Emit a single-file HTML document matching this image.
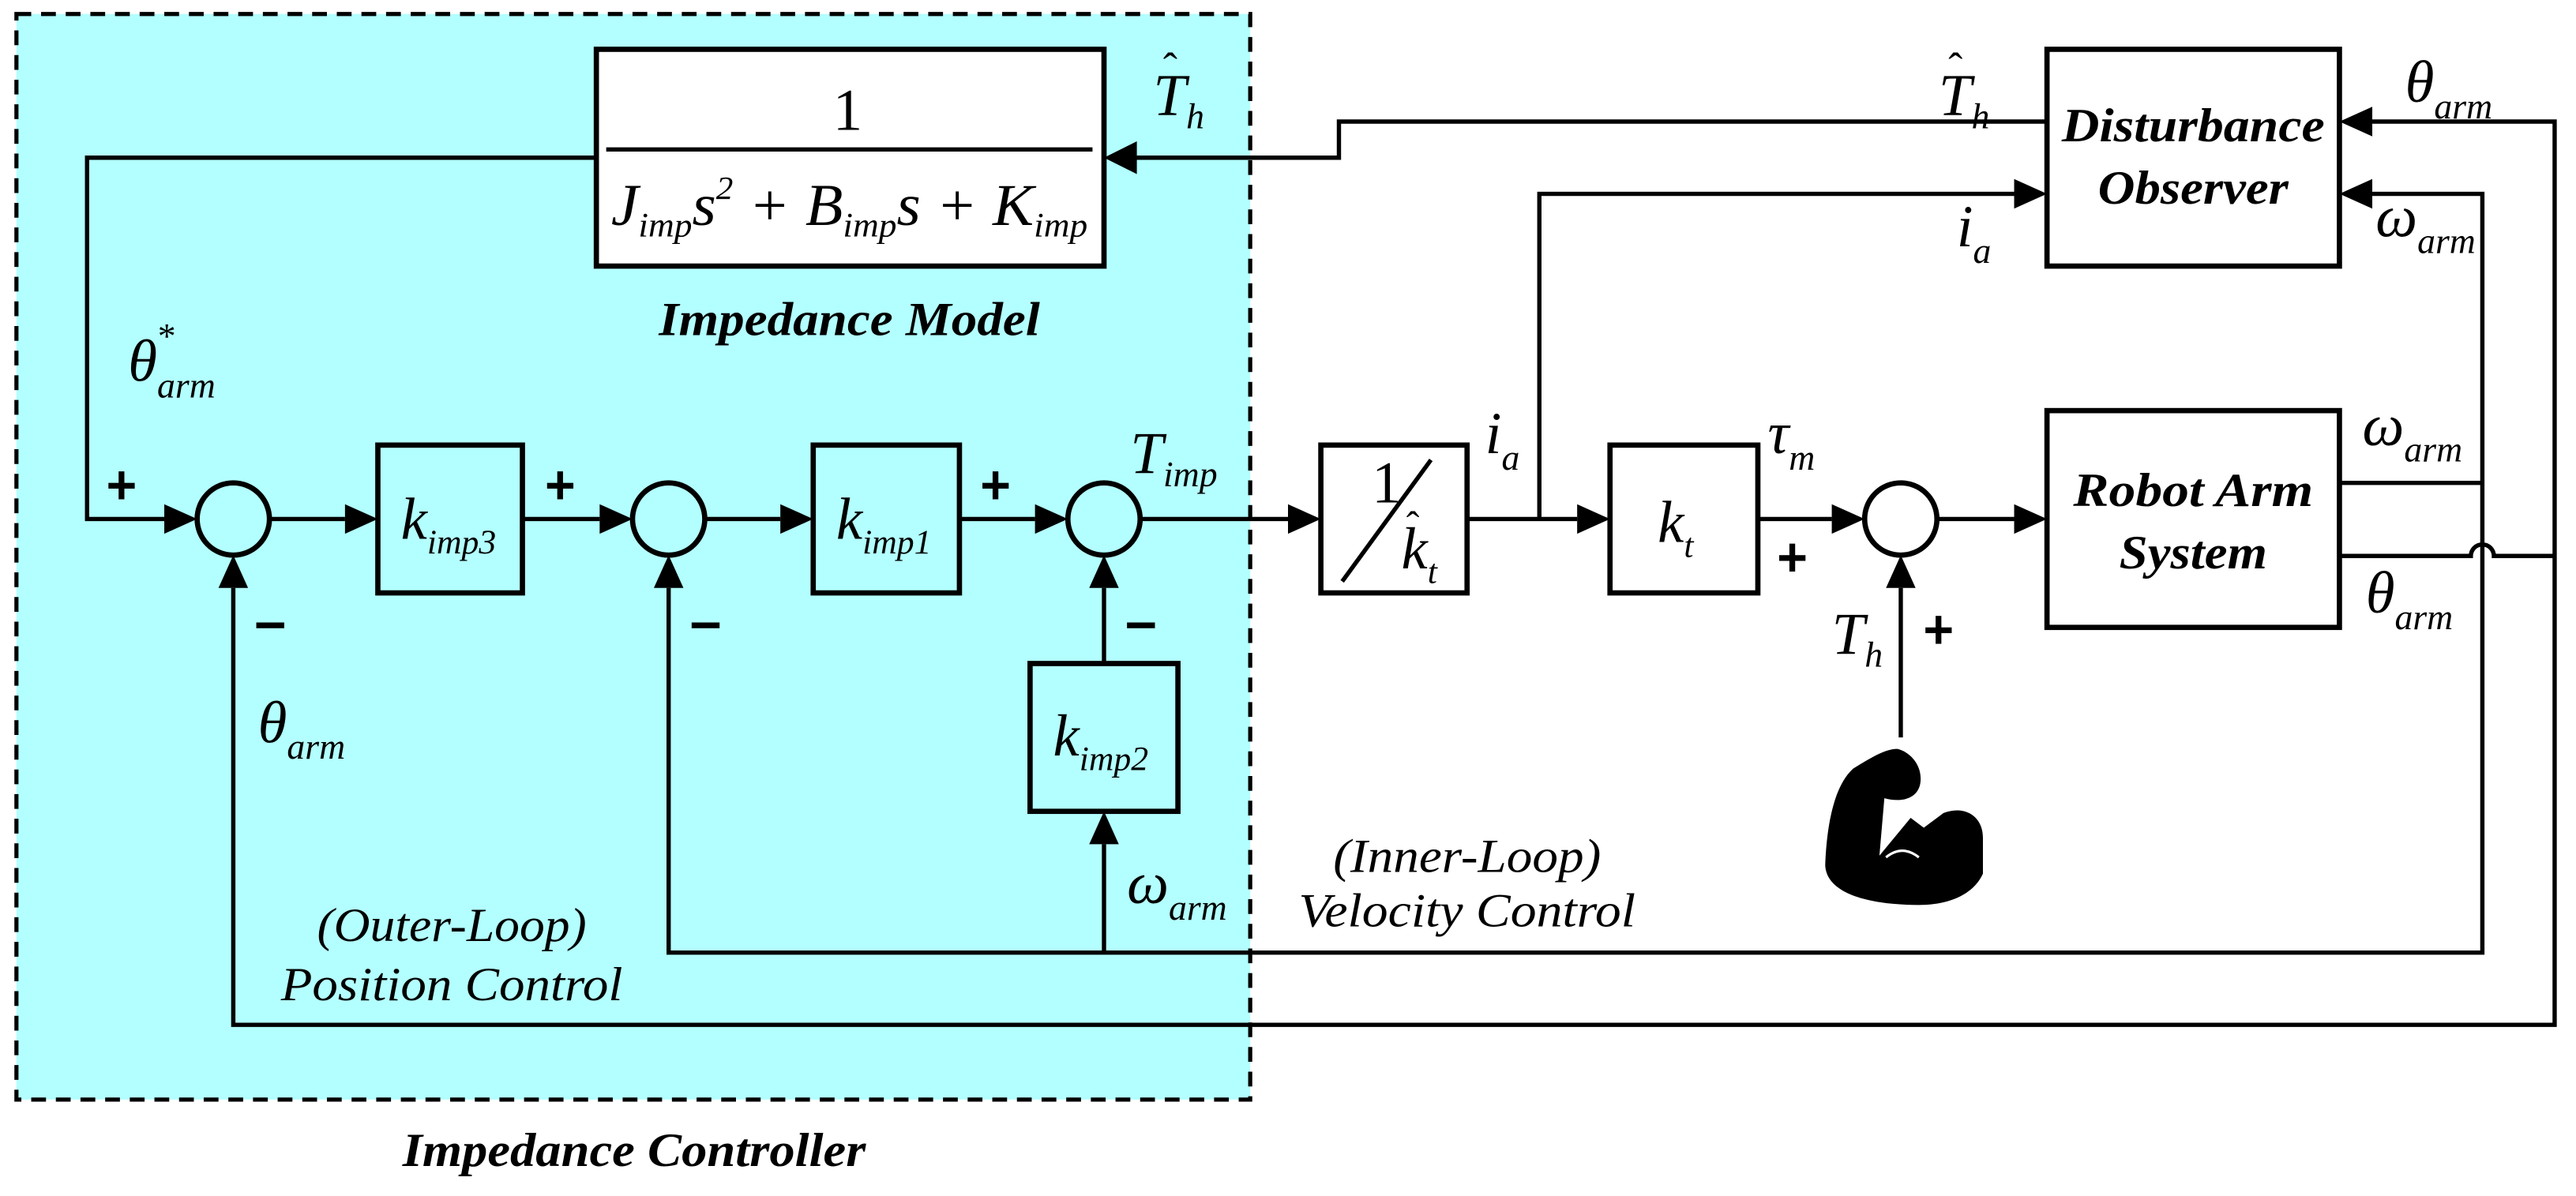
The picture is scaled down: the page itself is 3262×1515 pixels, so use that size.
<!DOCTYPE html>
<html><head><meta charset="utf-8"><style>
html,body{margin:0;padding:0;background:#fff;}
svg{display:block;}
svg text{font-family:"Liberation Serif","DejaVu Serif",serif !important;font-style:italic;fill:#000;}
svg text.n{font-style:normal;}
svg text.s{font-family:"Liberation Sans","DejaVu Sans",sans-serif !important;font-style:normal;font-weight:bold;}
.b{font-weight:bold;}
</style></head><body>
<svg width="3262" height="1515" viewBox="0 0 1568 728.2" xmlns="http://www.w3.org/2000/svg" font-family="Liberation Serif, serif">
<rect x="0" y="0" width="1568" height="728.2" fill="#fff"/>
<rect x="10" y="8.5" width="751" height="661" fill="#b3ffff" stroke="#000" stroke-width="2.5" stroke-dasharray="9,6"/>

<g stroke="#000" fill="none" stroke-width="3.2">
<rect x="363" y="30" width="309" height="132" fill="#fff"/>
<rect x="1246" y="30" width="178" height="132" fill="#fff"/>
<rect x="1246" y="250" width="178" height="132" fill="#fff"/>
<rect x="230" y="271" width="88" height="90"/>
<rect x="495" y="271" width="89" height="90"/>
<rect x="627" y="404" width="90" height="90"/>
<rect x="804" y="271" width="89" height="90" fill="#fff"/>
<rect x="980" y="271" width="90" height="90" fill="#fff"/>
<circle cx="142" cy="316" r="22"/>
<circle cx="407" cy="316" r="22"/>
<circle cx="672" cy="316" r="22"/>
<circle cx="1157" cy="316" r="22"/>
</g>

<g stroke="#000" fill="none" stroke-width="2.6">
<polyline points="1246,74 815,74 815,96 690,96"/>
<polyline points="363,96 53,96 53,316 100,316"/>
<line x1="164" y1="316" x2="210" y2="316"/>
<line x1="318" y1="316" x2="365" y2="316"/>
<line x1="429" y1="316" x2="475" y2="316"/>
<line x1="584" y1="316" x2="630" y2="316"/>
<line x1="694" y1="316" x2="784" y2="316"/>
<line x1="893" y1="316" x2="960" y2="316"/>
<line x1="1070" y1="316" x2="1115" y2="316"/>
<line x1="1179" y1="316" x2="1226" y2="316"/>
<polyline points="937,316 937,118 1226,118"/>
<polyline points="142,358 142,624 1555,624 1555,74 1444,74"/>
<polyline points="407,358 407,580 1511,580 1511,118 1444,118"/>
<line x1="672" y1="580" x2="672" y2="514"/>
<line x1="672" y1="404" x2="672" y2="358"/>
<line x1="1157" y1="449" x2="1157" y2="358"/>
<line x1="1424" y1="294" x2="1511" y2="294"/>
<path d="M1424,338.5 L1504,338.5 A7,7 0 0 1 1518,338.5 L1555,338.5"/>
<line x1="871" y1="280" x2="817" y2="354"/>
<line x1="369" y1="91" x2="665" y2="91"/>
</g>

<g fill="#000">
<polygon points="672,96 692,86 692,106"/>
<polygon points="120,316 100,307 100,325"/>
<polygon points="230,316 210,307 210,325"/>
<polygon points="385,316 365,307 365,325"/>
<polygon points="495,316 475,307 475,325"/>
<polygon points="650,316 630,307 630,325"/>
<polygon points="804,316 784,307 784,325"/>
<polygon points="980,316 960,307 960,325"/>
<polygon points="1135,316 1115,307 1115,325"/>
<polygon points="1246,316 1226,307 1226,325"/>
<polygon points="1246,118 1226,109 1226,127"/>
<polygon points="1424,74 1444,65 1444,83"/>
<polygon points="1424,118 1444,109 1444,127"/>
<polygon points="142,338 133,358 151,358"/>
<polygon points="407,338 398,358 416,358"/>
<polygon points="672,338 663,358 681,358"/>
<polygon points="1157,338 1148,358 1166,358"/>
<polygon points="672,494 663,514 681,514"/>
<path d="M1155,456 C1163,458 1170,466 1169,476 C1168,486 1158,489 1147,486 L1144,521 L1163,498 L1171,504 L1183,495 C1196,490 1207,497 1207,510 L1207,532 C1201,545 1186,551 1168,551 C1140,551 1112,545 1111,527 C1112,500 1117,478 1128,468 C1138,462 1147,456 1155,456 Z"/>
</g>
<path d="M1148,522 Q1158,514 1168,522" stroke="#fff" stroke-width="1.5" fill="none"/>

<!-- signs -->
<g fill="#000">
<rect x="66" y="294" width="16" height="3.5"/><rect x="72.2" y="287" width="3.5" height="17"/>
<rect x="333" y="294" width="16" height="3.5"/><rect x="339.2" y="287" width="3.5" height="17"/>
<rect x="598" y="294" width="16" height="3.5"/><rect x="604.2" y="287" width="3.5" height="17"/>
<rect x="1083" y="338" width="16" height="3.5"/><rect x="1089.2" y="331" width="3.5" height="17"/>
<rect x="1172" y="382" width="16" height="3.5"/><rect x="1178.2" y="375" width="3.5" height="17"/>
<rect x="156" y="379" width="17" height="3.5"/>
<rect x="421" y="379" width="17" height="3.5"/>
<rect x="686" y="379" width="17" height="3.5"/>
</g>

<g font-size="36">
<text class="n" x="507" y="79">1</text>
<text x="372" y="137" textLength="290" lengthAdjust="spacingAndGlyphs">J<tspan font-size="21" dy="7">imp</tspan><tspan dy="-7">s</tspan><tspan font-size="20" dy="-16" class="n">2</tspan><tspan dy="16"> + </tspan>B<tspan font-size="21" dy="7">imp</tspan><tspan dy="-7">s + </tspan>K<tspan font-size="21" dy="7">imp</tspan></text>

<text x="244" y="328">k<tspan font-size="21" dy="9">imp3</tspan></text>
<text x="509" y="328">k<tspan font-size="21" dy="9">imp1</tspan></text>
<text x="641" y="460">k<tspan font-size="21" dy="9">imp2</tspan></text>
<text x="1009" y="330">k<tspan font-size="21" dy="9">t</tspan></text>
<text class="n" x="835" y="306">1</text>
<text x="853" y="346">k<tspan font-size="21" dy="9">t</tspan></text>
<text class="n" x="856" y="328" font-size="24">ˆ</text>

<text x="702" y="70">T<tspan font-size="22" dy="8">h</tspan></text>
<text class="n" x="708" y="50" font-size="26">ˆ</text>
<text x="1180" y="70">T<tspan font-size="22" dy="8">h</tspan></text>
<text class="n" x="1186" y="50" font-size="26">ˆ</text>
<text x="1191" y="150">i<tspan font-size="22" dy="10">a</tspan></text>
<text x="904" y="276">i<tspan font-size="22" dy="10">a</tspan></text>
<text x="1076" y="276">τ<tspan font-size="22" dy="10">m</tspan></text>
<text x="688" y="288">T<tspan font-size="22" dy="8">imp</tspan></text>
<text x="1115" y="398">T<tspan font-size="22" dy="8">h</tspan></text>

<text x="78" y="232">θ<tspan font-size="22" dy="10">arm</tspan></text>
<text class="n" x="96" y="212" font-size="22">*</text>
<text x="157" y="452">θ<tspan font-size="22" dy="10">arm</tspan></text>
<text x="686" y="550">ω<tspan font-size="22" dy="10">arm</tspan></text>
<text x="1464" y="62">θ<tspan font-size="22" dy="10">arm</tspan></text>
<text x="1446" y="144">ω<tspan font-size="22" dy="10">arm</tspan></text>
<text x="1438" y="271">ω<tspan font-size="22" dy="10">arm</tspan></text>
<text x="1440" y="373">θ<tspan font-size="22" dy="10">arm</tspan></text>
</g>

<g font-size="29">
<text class="b" x="517" y="204" text-anchor="middle" textLength="232" lengthAdjust="spacingAndGlyphs">Impedance Model</text>
<text class="b" x="1335" y="86" text-anchor="middle" textLength="160" lengthAdjust="spacingAndGlyphs">Disturbance</text>
<text class="b" x="1335" y="124" text-anchor="middle" textLength="116" lengthAdjust="spacingAndGlyphs">Observer</text>
<text class="b" x="1335" y="308" text-anchor="middle" textLength="146" lengthAdjust="spacingAndGlyphs">Robot Arm</text>
<text class="b" x="1335" y="346" text-anchor="middle" textLength="90" lengthAdjust="spacingAndGlyphs">System</text>
<text class="b" x="386" y="710" text-anchor="middle" textLength="282" lengthAdjust="spacingAndGlyphs">Impedance Controller</text>
<text x="275" y="573" text-anchor="middle" textLength="164" lengthAdjust="spacingAndGlyphs">(Outer-Loop)</text>
<text x="275" y="609" text-anchor="middle" textLength="208" lengthAdjust="spacingAndGlyphs">Position Control</text>
<text x="893" y="531" text-anchor="middle" textLength="163" lengthAdjust="spacingAndGlyphs">(Inner-Loop)</text>
<text x="893" y="564" text-anchor="middle" textLength="205" lengthAdjust="spacingAndGlyphs">Velocity Control</text>
</g>
</svg>
</body></html>
